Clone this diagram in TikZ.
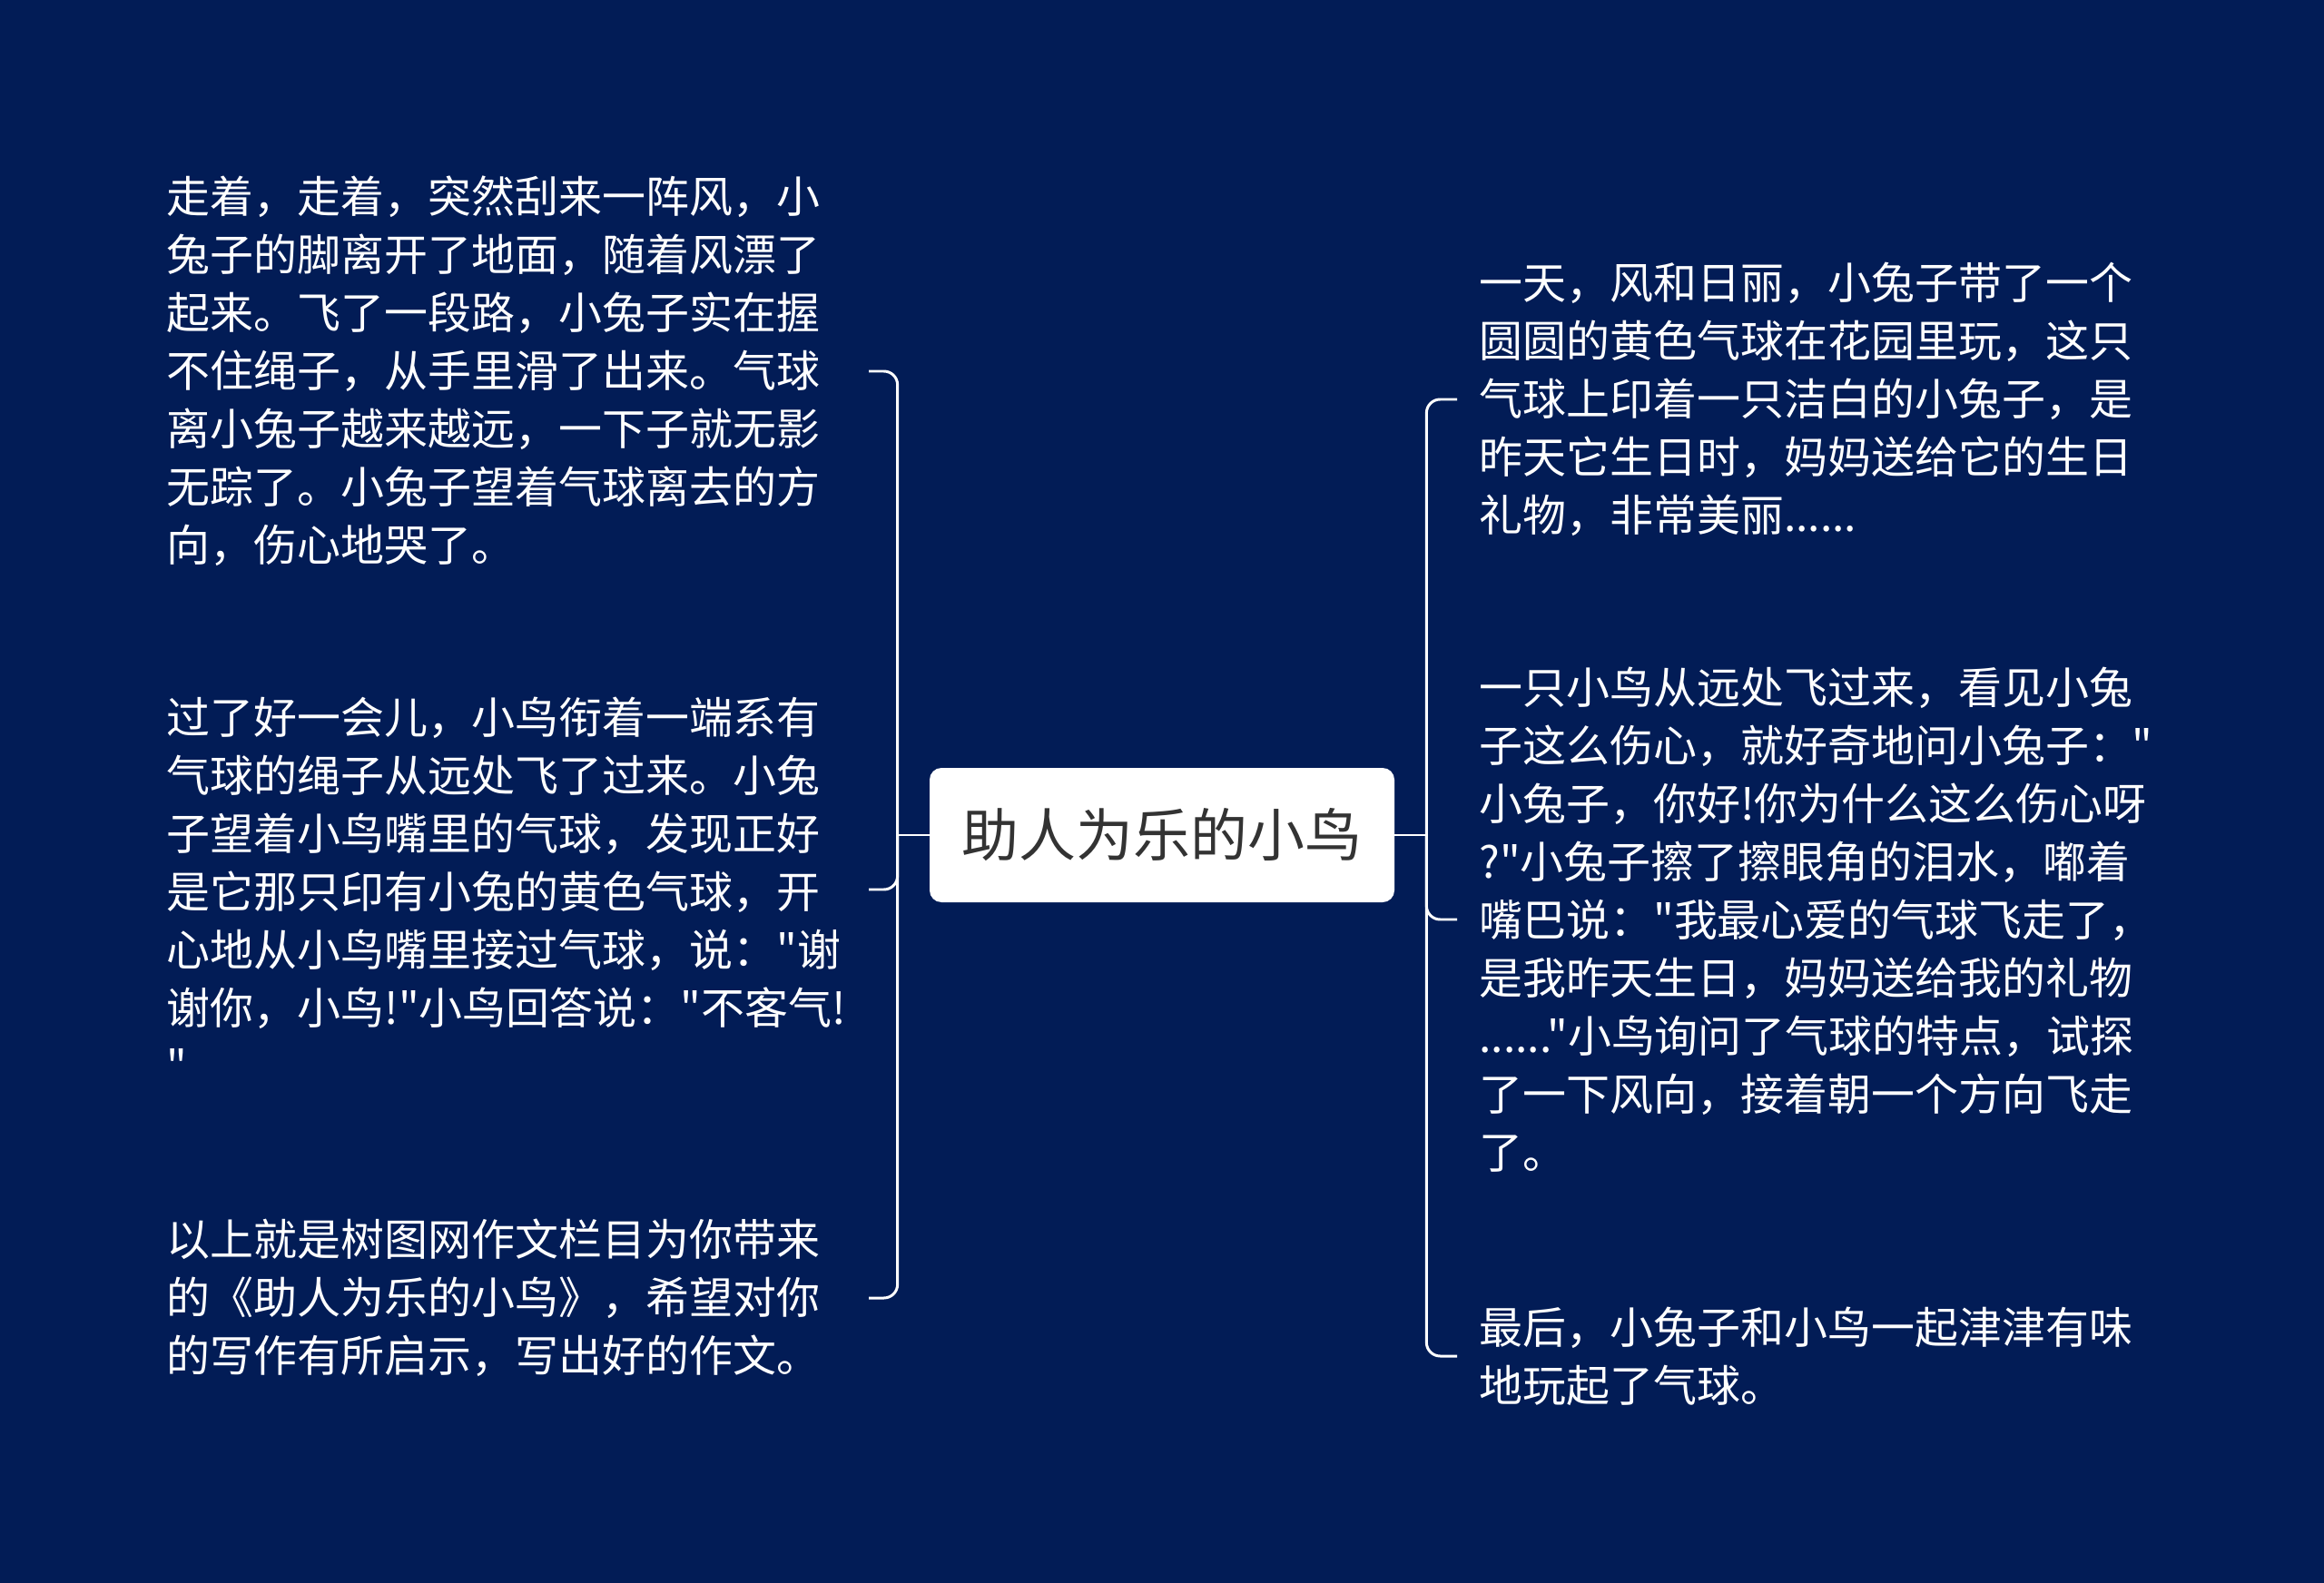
\documentclass[tikz,border=0pt]{standalone}
\usepackage{fontspec}
\usepackage{tikz}
\usetikzlibrary{positioning}
\newfontfamily\storyfont{Noto Sans CJK SC}
\definecolor{storynavy}{RGB}{2,28,86}
\definecolor{titlegray}{RGB}{51,51,51}

\begin{document}
\begin{tikzpicture}[
  topic/.style={rectangle, rounded corners=0.26cm, fill=white, minimum width=10.24cm, minimum height=2.96cm, text=titlegray, font=\storyfont\fontsize{35.8pt}{40pt}\selectfont},
  para/.style={align=left, text=white, inner xsep=0.48cm, inner ysep=0pt, font=\storyfont\fontsize{27.3pt}{36.4pt}\selectfont},
  leftpara/.style={para, anchor=east, text width=14.98cm},
  rightpara/.style={para, anchor=west, text width=15.2cm},
  link/.style={draw=white, line width=1.7pt, rounded corners=0.3cm},
]
  \fill[storynavy] (0,0) rectangle (51.2,-34.88);
  \useasboundingbox (0,0) rectangle (51.2,-34.88);

  \node[topic] (bird) at (25.6,-18.4) {助人为乐的小鸟};
  \coordinate[left=0.7cm of bird] (lhub);
  \coordinate[right=0.7cm of bird] (rhub);

  \node[leftpara] (windy) at (19.14,-8.18) {走着，走着，突然刮来一阵风，小\\兔子的脚离开了地面，随着风漂了\\起来。飞了一段路，小兔子实在握\\不住绳子，从手里滑了出来。气球\\离小兔子越来越远，一下子就无影\\无踪了。小兔子望着气球离去的方\\向，伤心地哭了。};
  \node[leftpara] (returned) at (19.14,-19.6) {过了好一会儿，小鸟衔着一端系有\\气球的绳子从远处飞了过来。小兔\\子望着小鸟嘴里的气球，发现正好\\是它那只印有小兔的黄色气球，开\\心地从小鸟嘴里接过气球，说："谢\\谢你，小鸟!"小鸟回答说："不客气!\\"};
  \node[leftpara] (closing) at (19.14,-28.6) {以上就是树图网作文栏目为你带来\\的《助人为乐的小鸟》，希望对你\\的写作有所启示，写出好的作文。};

  \node[rightpara] (balloon) at (32.1,-8.8) {一天，风和日丽，小兔子带了一个\\圆圆的黄色气球在花园里玩，这只\\气球上印着一只洁白的小兔子，是\\昨天它生日时，妈妈送给它的生日\\礼物，非常美丽......};
  \node[rightpara] (asking) at (32.1,-20.26) {一只小鸟从远处飞过来，看见小兔\\子这么伤心，就好奇地问小兔子："\\小兔子，你好!你为什么这么伤心呀\\?"小兔子擦了擦眼角的泪水，嘟着\\嘴巴说："我最心爱的气球飞走了，\\是我昨天生日，妈妈送给我的礼物\\......"小鸟询问了气球的特点，试探\\了一下风向，接着朝一个方向飞走\\了。};
  \node[rightpara] (playing) at (32.1,-29.88) {最后，小兔子和小鸟一起津津有味\\地玩起了气球。};

  \draw[link] (bird.west) -- (lhub);
  \draw[link] (bird.east) -- (rhub);
  \draw[link] (lhub) |- (windy.east);
  \draw[link] (lhub) |- (returned.east);
  \draw[link] (lhub) |- (closing.east);
  \draw[link] (rhub) |- (balloon.west);
  \draw[link] (rhub) |- (asking.west);
  \draw[link] (rhub) |- (playing.west);
\end{tikzpicture}
\end{document}
